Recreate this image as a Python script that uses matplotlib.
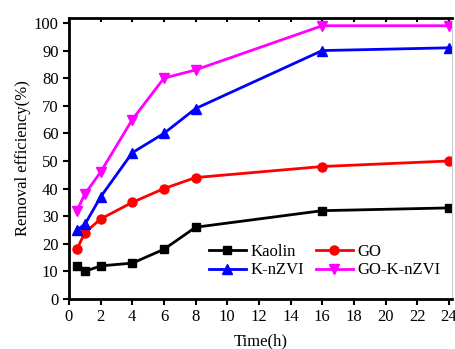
import matplotlib
matplotlib.use("Agg")
import matplotlib.pyplot as plt

time_h = [0.5, 1, 2, 4, 6, 8, 16, 24]
kaolin = [12, 10, 12, 13, 18, 26, 32, 33]
go = [18, 24, 29, 35, 40, 44, 48, 50]
knzvi = [25, 27, 37, 53, 60, 69, 90, 91]
goknzvi = [32, 38, 46, 65, 80, 83, 99, 99]
xticks = list(range(0, 25, 2))
yticks = list(range(0, 101, 10))

plt.rcParams['font.family'] = ['Liberation Serif', 'DejaVu Serif']

fig = plt.figure(figsize=(4.56, 3.49), dpi=100)
ax = fig.add_axes([69/456, 1-299/349, (452-69)/456, (299-18)/349])

l1, = ax.plot(time_h, kaolin, color='black', marker='s', ms=6, lw=2, label='Kaolin')
l2, = ax.plot(time_h, go, color='red', marker='o', ms=6.5, lw=2, label='GO')
l3, = ax.plot(time_h, knzvi, color='blue', marker='^', ms=7, lw=2, label='K-nZVI')
l4, = ax.plot(time_h, goknzvi, color='magenta', marker='v', ms=7, lw=2, label='GO-K-nZVI')

ax.set_xlim(0, 24.2)
ax.set_ylim(0, 101.8)
ax.set_xticks(xticks)
ax.set_yticks(yticks)
ax.tick_params(axis='both', labelsize=12, width=1.5, length=4, direction='out')
for s in ['left', 'bottom', 'top']:
    ax.spines[s].set_linewidth(2)
ax.spines['right'].set_linewidth(0.8)
ax.spines['right'].set_color('#cccccc')
ax.xaxis.set_tick_params(which='major', top=True)
for t in ax.xaxis.get_major_ticks():
    t.tick2line.set_markersize(3)
    t.tick2line.set_marker(3)

ax.set_xlabel('Time(h)', fontsize=12, labelpad=6)
ax.set_ylabel('Removal efficiency(%)', fontsize=12, labelpad=2)

ax.legend([l1, l3, l2, l4], ['Kaolin', 'K-nZVI', 'GO', 'GO-K-nZVI'],
          ncol=2, frameon=False, fontsize=12, loc='lower right',
          bbox_to_anchor=(1.01, 0.02), handlelength=2.2, columnspacing=0.7,
          handletextpad=0.3, labelspacing=0.15)

fig.savefig('out.png', dpi=100)
